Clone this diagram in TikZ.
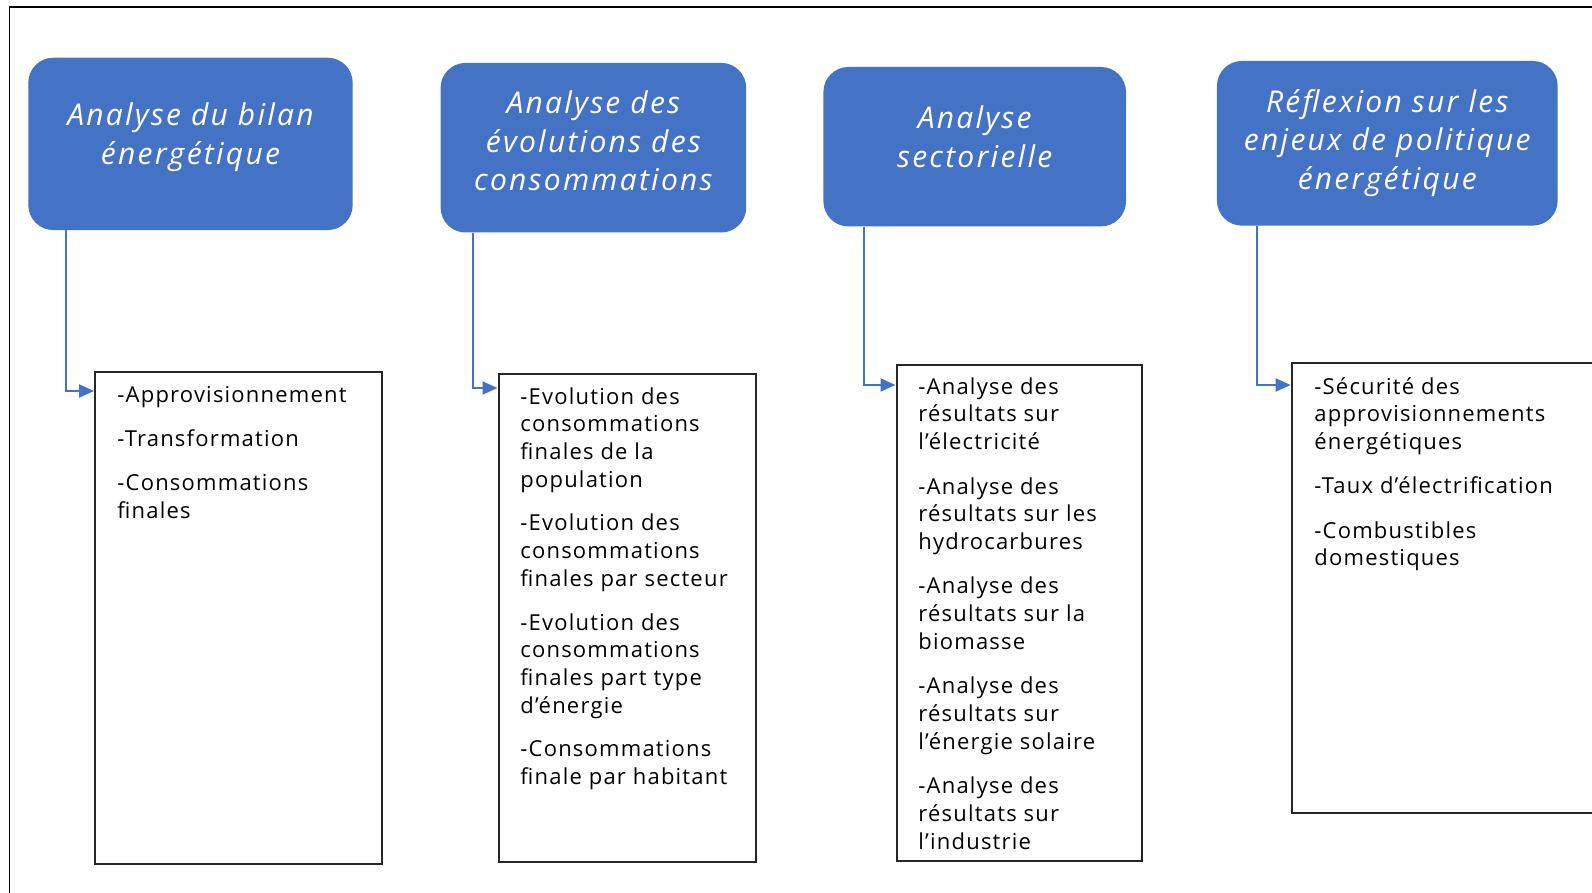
\documentclass[tikz,border=0pt]{standalone}
\usepackage{fontspec}
\setmainfont{Open Sans}
\newfontfamily\bodyfont[LetterSpace=5.5]{Open Sans}
\newfontfamily\headfont[LetterSpace=7.5]{Open Sans}
\usetikzlibrary{arrows.meta}
\definecolor{hblue}{HTML}{4472C4}
\begin{document}
\begin{tikzpicture}[x=0.5pt,y=-0.5pt,
  head/.style={rectangle, rounded corners=12.5pt, fill=hblue, inner sep=0pt},
  htext/.style={text=white, font=\headfont\fontsize{15}{19.3}\selectfont\itshape, align=center, inner sep=0pt},
  ibox/.style={rectangle, draw=black!85, line width=1pt, fill=white, inner sep=0pt},
  body/.style={font=\bodyfont\fontsize{11}{13.85}\selectfont, align=left, anchor=north west, inner sep=0pt},
  conn/.style={draw=hblue, line width=1pt, -{Triangle[length=7.5pt,width=6.5pt]}},
  frame/.style={draw=black, line width=0.7pt}]
\useasboundingbox (0,0) rectangle (1592,893);
\clip (0,0) rectangle (1592,893);
\fill[white] (0,0) rectangle (1592,893);
\coordinate (f0) at (9.5,893);
\coordinate (f1) at (9.5,7);
\coordinate (f2) at (1592,7);
\draw[frame] (f0) -- (f1) -- (f2);

% header boxes
\node[head, minimum width=162.2pt, minimum height=86.15pt] (h1) at (190.5,143.9) {};
\node[head, minimum width=152.8pt, minimum height=84.8pt] (h2) at (593.4,147.7) {};
\node[head, minimum width=151.3pt, minimum height=79.7pt] (h3) at (974.7,146.7) {};
\node[head, minimum width=170.35pt, minimum height=82.35pt] (h4) at (1387.3,143.3) {};

\node[htext] (t1) at (190.5,137) {Analyse du bilan\\énergétique};
\node[htext] (t2) at (593.4,141) {Analyse des\\évolutions des\\consommations};
\node[htext] (t3) at (974.7,137) {Analyse\\sectorielle};
\node[htext] (t4) at (1387.3,143) {Réflexion sur les\\enjeux de politique\\énergétique};

% content boxes
\node[ibox, minimum width=143.35pt, minimum height=245.85pt] (bA) at (238.35,618.15) {};
\node[ibox, minimum width=128.5pt, minimum height=244.2pt] (bB) at (627,617.8) {};
\node[ibox, minimum width=122.75pt, minimum height=247.75pt] (bC) at (1019.25,613.25) {};
\node[ibox, minimum width=174.15pt, minimum height=225pt] (bD) at (1465.85,588.3) {};

\node[body] (xA) at (117,386) {-Approvisionnement\\[8.25pt]-Transformation\\[8.25pt]-Consommations\\finales};
\node[body] (xB) at (520,387) {-Evolution des\\consommations\\finales de la\\population\\[8pt]-Evolution des\\consommations\\finales par secteur\\[8pt]-Evolution des\\consommations\\finales part type\\d’énergie\\[8pt]-Consommations\\finale par habitant};
\node[body] (xC) at (918,377) {-Analyse des\\résultats sur\\l’électricité\\[8.4pt]-Analyse des\\résultats sur les\\hydrocarbures\\[8.4pt]-Analyse des\\résultats sur la\\biomasse\\[8.4pt]-Analyse des\\résultats sur\\l’énergie solaire\\[8.4pt]-Analyse des\\résultats sur\\l’industrie};
\node[body] (xD) at (1314,377) {-Sécurité des\\approvisionnements\\énergétiques\\[8.25pt]-Taux d’électrification\\[8.25pt]-Combustibles\\domestiques};

% connectors
\coordinate (c1) at (66,391);
\coordinate (c2) at (473,388);
\coordinate (c3) at (864,385);
\coordinate (c4) at (1257,385);
\draw[conn] (h1.south -| c1) |- (c1 -| bA.west);
\draw[conn] (h2.south -| c2) |- (c2 -| bB.west);
\draw[conn] (h3.south -| c3) |- (c3 -| bC.west);
\draw[conn] (h4.south -| c4) |- (c4 -| bD.west);
\end{tikzpicture}
\end{document}
